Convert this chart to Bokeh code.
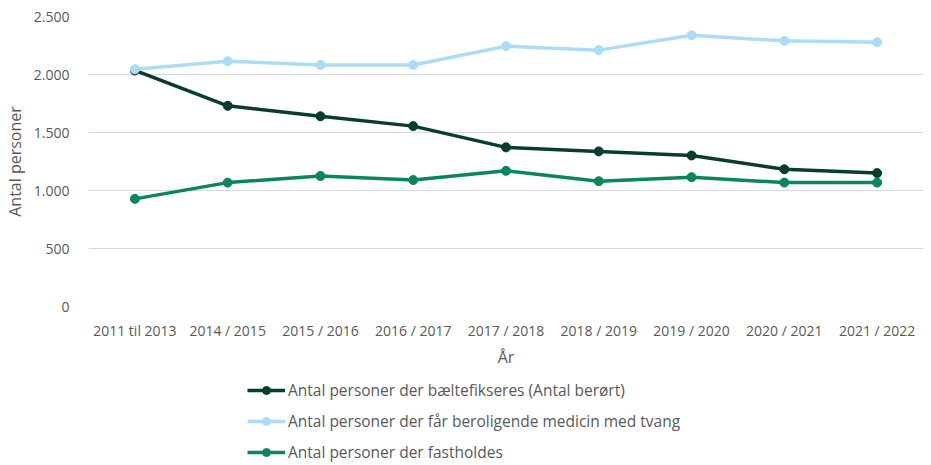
from bokeh.plotting import figure
from bokeh.models import Legend, LegendItem, FixedTicker, Range1d
from bokeh.layouts import column
from bokeh.embed import file_html
from bokeh.resources import INLINE

years = ["2011 til 2013", "2014 / 2015", "2015 / 2016", "2016 / 2017", "2017 / 2018",
         "2018 / 2019", "2019 / 2020", "2020 / 2021", "2021 / 2022"]
baelte = [2035, 1730, 1640, 1555, 1372, 1337, 1302, 1183, 1150]
medicin = [2045, 2115, 2082, 2082, 2244, 2210, 2338, 2290, 2278]
fasthold = [928, 1068, 1125, 1090, 1170, 1080, 1115, 1068, 1068]

series_names = ["Antal personer der bæltefikseres (Antal berørt)",
                "Antal personer der får beroligende medicin med tvang",
                "Antal personer der fastholdes"]
colors = ["#063d30", "#acdcf6", "#0b8462"]
series = [baelte, medicin, fasthold]

y_ticks = [0, 500, 1000, 1500, 2000, 2500]
y_tick_labels = ["0", "500", "1.000", "1.500", "2.000", "2.500"]

FONT = "Open Sans"
TXT = "#595959"

p = figure(x_range=years, width=923, height=376, output_backend="svg",
           toolbar_location=None, min_border_left=79, min_border_right=0,
           min_border_top=16, min_border_bottom=70)
p.y_range = Range1d(0, 2500)
p.outline_line_color = None
p.xgrid.grid_line_color = None
p.ygrid.grid_line_color = "#d9d9d9"
p.ygrid.grid_line_width = 1

p.yaxis.ticker = FixedTicker(ticks=y_ticks)
p.yaxis.major_label_overrides = dict(zip(y_ticks, y_tick_labels))
for ax in (p.xaxis[0], p.yaxis[0]):
    ax.axis_line_color = None
    ax.major_tick_line_color = None
    ax.minor_tick_line_color = None
    ax.major_label_text_font = FONT
    ax.major_label_text_color = TXT
    ax.major_label_text_font_size = "14px"
    ax.axis_label_text_font = FONT
    ax.axis_label_text_color = TXT
    ax.axis_label_text_font_size = "16px"
    ax.axis_label_text_font_style = "normal"

p.yaxis.axis_label = "Antal personer"
p.yaxis.major_label_standoff = 13
p.yaxis.axis_label_standoff = 5
p.xaxis.axis_label = "År"
p.xaxis.major_label_standoff = 8
p.xaxis.axis_label_standoff = 3

for vals, c in zip(series, colors):
    p.line(years, vals, line_color=c, line_width=3.5)
    p.scatter(years, vals, size=9, fill_color=c, line_color=c)

# legend panel below the chart
q = figure(x_range=years, width=923, height=89, output_backend="svg",
           toolbar_location=None, min_border=0, outline_line_color=None,
           x_axis_type=None, y_axis_type=None)
q.y_range = Range1d(-2, -1)
q.grid.visible = False
items = []
for vals, name, c in zip(series, series_names, colors):
    l = q.line(years, vals, line_color=c, line_width=3.5)
    s = q.scatter(years, vals, size=9, fill_color=c, line_color=c)
    items.append(LegendItem(label=name, renderers=[l, s]))
legend = Legend(items=items, orientation="vertical", location=(159, 2),
                label_text_font=FONT, label_text_font_size="15.5px",
                label_text_color=TXT, glyph_width=38, glyph_height=20,
                spacing=9, padding=0, margin=0, border_line_color=None,
                background_fill_alpha=0, label_standoff=3)
q.add_layout(legend, "center")

open("out.html", "w").write(file_html(column(p, q, spacing=0), INLINE))
